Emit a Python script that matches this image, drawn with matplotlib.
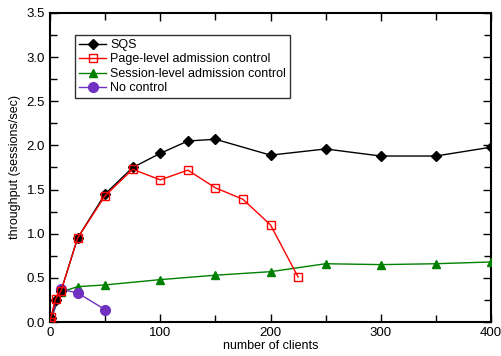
import matplotlib
matplotlib.use("Agg")
import matplotlib.pyplot as plt
from matplotlib.ticker import MultipleLocator

plt.rcParams['font.family'] = ['Liberation Sans', 'DejaVu Sans']

sqs_x = [0, 1, 5, 10, 25, 50, 75, 100, 125, 150, 200, 250, 300, 350, 400]
sqs_y = [0.0, 0.05, 0.25, 0.35, 0.95, 1.45, 1.75, 1.91, 2.05, 2.07, 1.89, 1.96, 1.88, 1.88, 1.98]

page_x = [0, 1, 5, 10, 25, 50, 75, 100, 125, 150, 175, 200, 225]
page_y = [0.0, 0.06, 0.26, 0.35, 0.95, 1.43, 1.73, 1.61, 1.72, 1.52, 1.39, 1.10, 0.51]

sess_x = [0, 10, 25, 50, 100, 150, 200, 250, 300, 350, 400]
sess_y = [0.0, 0.34, 0.40, 0.42, 0.48, 0.53, 0.57, 0.66, 0.65, 0.66, 0.68]

none_x = [0, 10, 25, 50]
none_y = [0.0, 0.37, 0.33, 0.14]

fig = plt.figure(figsize=(5.02, 3.56), dpi=100)
ax = fig.add_axes([0.0996, 0.0955, 0.8785, 0.868])

ax.plot(sqs_x, sqs_y, color='black', marker='D', markersize=5, lw=1,
        label='SQS', zorder=4)
ax.plot(page_x, page_y, color='red', marker='s', markersize=6, lw=1,
        markerfacecolor='none', label='Page-level admission control', zorder=5)
ax.plot(sess_x, sess_y, color='green', marker='^', markersize=6, lw=1,
        label='Session-level admission control', zorder=3)
ax.plot(none_x, none_y, color='#7030c0', marker='o', markersize=7, lw=1,
        label='No control', zorder=3)

ax.set_xlim(0, 400)
ax.set_ylim(0, 3.5)
ax.xaxis.set_major_locator(MultipleLocator(100))
ax.xaxis.set_minor_locator(MultipleLocator(50))
ax.yaxis.set_major_locator(MultipleLocator(0.5))
ax.yaxis.set_minor_locator(MultipleLocator(0.25))
ax.yaxis.set_major_formatter(plt.FormatStrFormatter('%.1f'))
ax.tick_params(which='both', direction='in', top=True, right=True, labelsize=9.5)
ax.tick_params(which='major', length=6, width=1)
ax.tick_params(which='minor', length=5, width=1)
for s in ax.spines.values():
    s.set_linewidth(1.5)

ax.set_xlabel('number of clients', fontsize=9, labelpad=1)
ax.set_ylabel('throughput (sessions/sec)', fontsize=9, labelpad=4)

leg = ax.legend(loc='upper left', bbox_to_anchor=(0.057, 0.928), fontsize=9,
                frameon=True, fancybox=False, edgecolor='black',
                handlelength=2.2, handletextpad=0.3, labelspacing=0.2,
                borderpad=0.3, borderaxespad=0)
leg.get_frame().set_linewidth(1)

fig.savefig('out.png', dpi=100)
